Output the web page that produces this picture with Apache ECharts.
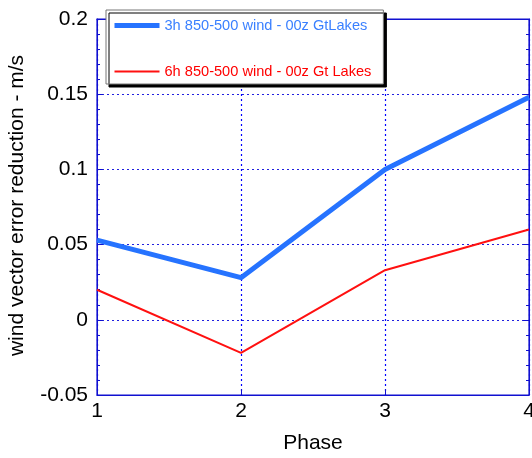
<!DOCTYPE html>
<html><head><meta charset="utf-8">
<script src="https://cdn.jsdelivr.net/npm/echarts@6/dist/echarts.min.js"></script>
<style>html,body{margin:0;padding:0;background:#fff}#c{width:532px;height:458px}</style>
</head><body><div id="c"></div>
<script>
const phases = [1, 2, 3, 4];
const series3h = [0.053, 0.028, 0.100, 0.148];
const series6h = [0.020, -0.022, 0.033, 0.060];
const names = ['3h 850-500 wind - 00z GtLakes', '6h 850-500 wind - 00z Gt Lakes'];
const axisBlue = '#1010d0';
const font = 'Liberation Sans';
const chart = echarts.init(document.getElementById('c'), null, {renderer: 'canvas'});
const yCommon = {
  type: 'value', min: -0.05, max: 0.2, interval: 0.05,
  axisLine: {show: true, onZero: false, lineStyle: {color: axisBlue, width: 1}},
  axisTick: {show: true, inside: true, length: 6, lineStyle: {color: axisBlue}},
  minorTick: {show: true, splitNumber: 5, length: 3, lineStyle: {color: axisBlue}},
  splitLine: {show: false}
};
const xCommon = {
  type: 'value', min: 1, max: 4, interval: 1,
  axisLine: {show: true, onZero: false, lineStyle: {color: axisBlue, width: 1}},
  axisTick: {show: true, inside: true, length: 6, lineStyle: {color: axisBlue}},
  splitLine: {show: false}
};
chart.setOption({
  animation: false,
  grid: {left: 97, right: 3, top: 19, bottom: 63, containLabel: false, outerBoundsMode: 'none',
         show: true, borderColor: axisBlue, borderWidth: 1.2, backgroundColor: 'transparent'},
  legend: {
    orient: 'vertical', left: 106, top: 10,
    padding: [8, 12, 5, 6], itemGap: 31, itemWidth: 45, itemHeight: 14,
    backgroundColor: '#fff', borderColor: '#777', borderWidth: 1,
    shadowColor: '#000', shadowBlur: 0.01, shadowOffsetX: 3, shadowOffsetY: 3,
    itemStyle: {opacity: 0},
    data: [
      {name: names[0], textStyle: {color: '#3a80ff'}, lineStyle: {width: 5, color: '#2673ff'}},
      {name: names[1], textStyle: {color: '#ff0000'}, lineStyle: {width: 2, color: '#ff1010'}}
    ],
    textStyle: {fontFamily: font, fontSize: 14.6}
  },
  xAxis: [
    Object.assign({}, xCommon, {
      position: 'bottom',
      name: 'Phase', nameLocation: 'middle', nameGap: 38,
      nameTextStyle: {color: '#000', fontFamily: font, fontSize: 21},
      axisLabel: {color: '#000', fontFamily: font, fontSize: 21, margin: 6},
      splitLine: {show: true, lineStyle: {color: '#0000ff', type: [2, 3], width: 1.2}}
    }),
    Object.assign({}, xCommon, {position: 'top', axisLabel: {show: false}})
  ],
  yAxis: [
    Object.assign({}, yCommon, {
      position: 'left',
      name: 'wind vector error reduction - m/s', nameLocation: 'middle', nameGap: 69,
      nameTextStyle: {color: '#000', fontFamily: font, fontSize: 21, padding: [0, 0, 0, 3]},
      axisLabel: {color: '#000', fontFamily: font, fontSize: 21, margin: 9},
      splitLine: {show: true, lineStyle: {color: '#2020e0', type: [2, 3], width: 1}}
    }),
    Object.assign({}, yCommon, {position: 'right', axisLabel: {show: false}})
  ],
  series: [
    {name: names[0], type: 'line', data: phases.map((p, i) => [p, series3h[i]]),
     symbol: 'none', lineStyle: {color: '#2673ff', width: 5}, itemStyle: {color: '#2673ff'}},
    {name: names[1], type: 'line', data: phases.map((p, i) => [p, series6h[i]]),
     symbol: 'none', lineStyle: {color: '#ff1010', width: 2}, itemStyle: {color: '#ff1010'}}
  ]
});
</script></body></html>
